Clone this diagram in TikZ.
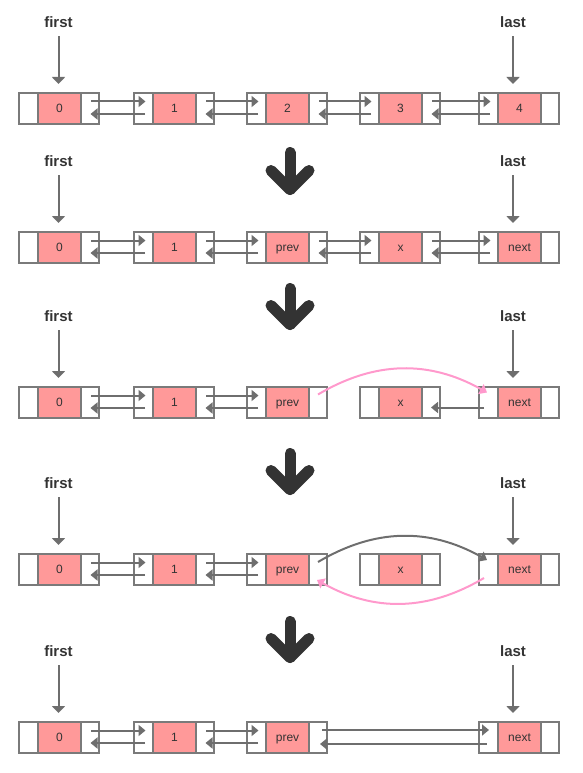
\documentclass[tikz,border=0pt]{standalone}
\usepackage{fontspec}
\setmainfont{Liberation Sans}
\usetikzlibrary{arrows.meta,calc}
\definecolor{bordergray}{HTML}{7A7A7A}
\definecolor{linkgray}{HTML}{6E6E6E}
\definecolor{cellpink}{HTML}{FF9999}
\definecolor{curvepink}{HTML}{FF99CC}
\definecolor{textdark}{HTML}{333333}
\definecolor{darkarrow}{HTML}{333333}
\tikzset{
 cell/.style={draw=bordergray, line width=1.3pt, fill=white, inner sep=0pt, outer sep=0pt, minimum height=31pt, anchor=north west},
 lcell/.style={cell, minimum width=19pt},
 pcell/.style={cell, minimum width=43pt, fill=cellpink, font=\fontsize{12}{12}\selectfont, text=textdark, text height=8.4pt, text depth=0pt},
 rcell/.style={cell, minimum width=18pt},
 link/.style={draw=linkgray, line width=2pt, -{Triangle[width=11pt,length=7pt]}},
 pinklink/.style={link, draw=curvepink},
 ptrlabel/.style={font=\bfseries\fontsize{15}{15}\selectfont, text=textdark, inner sep=0pt},
 ptr/.style={draw=linkgray, line width=2pt, -{Triangle[width=13pt,length=7pt]}, shorten <=8.5pt, shorten >=9pt},
 bigarrow/.style={draw=darkarrow, line width=11pt, line cap=round, line join=round},
}
\newcommand\llnode[4]{%
 \node[lcell] (#1L) at (#2,#3) {};
 \node[pcell] (#1P) at (#1L.north east) {#4};
 \node[rcell] (#1R) at (#1P.north east) {};
}
\newcommand\dlink[2]{%
 \draw[link] ($(#1R.center)+(1,-7)$) -- ($(#2L.center)+(2,-7)$);
 \draw[link] ($(#2L.center)+(1.5,5.5)$) -- ($(#1R.center)+(0.5,5.5)$);
}
\newcommand\ptrs[4]{% prefix, label y, first node, last node
 \node[ptrlabel] (#1f) at (58.5,#2) {first};
 \node[ptrlabel] (#1l) at (513,#2) {last};
 \draw[ptr] (#1f.south) -- (#1f.south |- #3P.north);
 \draw[ptr] (#1l.south) -- (#1l.south |- #4P.north);
}
\begin{document}
\begin{tikzpicture}[x=1pt,y=-1pt]
\useasboundingbox (0,0) rectangle (582,773);
% Row 1
\llnode{a0}{19}{93}{0}
\llnode{a1}{134}{93}{1}
\llnode{a2}{247}{93}{2}
\llnode{a3}{360}{93}{3}
\llnode{a4}{479}{93}{4}
\dlink{a0}{a1}\dlink{a1}{a2}\dlink{a2}{a3}\dlink{a3}{a4}
\ptrs{a}{22}{a0}{a4}
% big arrow 1
\draw[bigarrow] (290,152.5) -- (290,189.5);
\draw[bigarrow] (271,170.5) -- (290,189.5) -- (309,170.5);
% Row 2
\llnode{b0}{19}{232}{0}
\llnode{b1}{134}{232}{1}
\llnode{b2}{247}{232}{prev}
\llnode{b3}{360}{232}{x}
\llnode{b4}{479}{232}{next}
\dlink{b0}{b1}\dlink{b1}{b2}\dlink{b2}{b3}\dlink{b3}{b4}
\ptrs{b}{161}{b0}{b4}
% big arrow 2
\draw[bigarrow] (290,288.5) -- (290,324.5);
\draw[bigarrow] (271,305.5) -- (290,324.5) -- (309,305.5);
% Row 3
\llnode{c0}{19}{387}{0}
\llnode{c1}{134}{387}{1}
\llnode{c2}{247}{387}{prev}
\llnode{c3}{360}{387}{x}
\llnode{c4}{479}{387}{next}
\dlink{c0}{c1}\dlink{c1}{c2}
\draw[pinklink] ($(c2R.center)+(0,-8)$) to[bend left=30] ($(c4L.center)+(-1.5,-10)$);
\draw[link] ($(c4L.center)+(-4.5,5)$) -- ($(c3R.center)+(0,5)$);
\ptrs{c}{316}{c0}{c4}
% big arrow 3
\draw[bigarrow] (290,453.5) -- (290,489.5);
\draw[bigarrow] (271,470.5) -- (290,489.5) -- (309,470.5);
% Row 4
\llnode{d0}{19}{554}{0}
\llnode{d1}{134}{554}{1}
\llnode{d2}{247}{554}{prev}
\llnode{d3}{360}{554}{x}
\llnode{d4}{479}{554}{next}
\dlink{d0}{d1}\dlink{d1}{d2}
\draw[link] ($(d2R.center)+(0,-7.5)$) to[bend left=30] ($(d4L.center)+(-1.5,-9.5)$);
\draw[pinklink] ($(d4L.center)+(-4.5,8.5)$) to[bend left=30] ($(d2R.center)+(-1,10.5)$);
\ptrs{d}{483}{d0}{d4}
% big arrow 4
\draw[bigarrow] (290,621.5) -- (290,657.5);
\draw[bigarrow] (271,638.5) -- (290,657.5) -- (309,638.5);
% Row 5
\llnode{e0}{19}{722}{0}
\llnode{e1}{134}{722}{1}
\llnode{e2}{247}{722}{prev}
\llnode{e4}{479}{722}{next}
\dlink{e0}{e1}\dlink{e1}{e2}
\draw[link] ($(e2R.center)+(4,-7.5)$) -- ($(e4L.center)+(0.5,-7.5)$);
\draw[link] ($(e4L.center)+(-2,6.5)$) -- ($(e2R.center)+(2,6.5)$);
\ptrs{e}{651}{e0}{e4}
\end{tikzpicture}
\end{document}
